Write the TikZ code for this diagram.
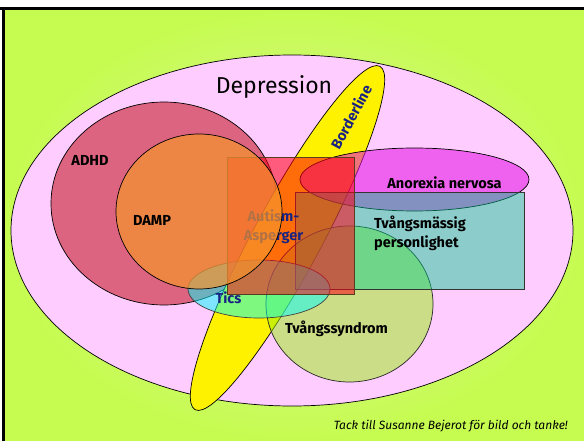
\documentclass[tikz,border=0pt]{standalone}
\usepackage{fontspec}
\setmainfont{Fira Sans}
\definecolor{bgin}{RGB}{220,242,168}
\definecolor{bgout}{RGB}{198,252,80}
\definecolor{pinkD}{RGB}{255,204,255}
\definecolor{adhdC}{RGB}{220,100,128}
\definecolor{dampC}{RGB}{245,148,45}
\definecolor{anoC}{RGB}{226,11,226}
\definecolor{tvsC}{RGB}{153,238,17}
\definecolor{tealC}{RGB}{0,204,139}
\definecolor{ticsC}{RGB}{0,255,255}
\definecolor{autC}{RGB}{255,0,20}
\definecolor{autEdge}{RGB}{90,60,30}
\definecolor{navy}{RGB}{25,35,130}
\begin{document}
\begin{tikzpicture}[x=1pt,y=-1pt,
  outl/.style={draw=black,line width=0.7pt},
  lbl/.style={font=\fontsize{14.5}{19}\selectfont\bfseries, inner sep=0pt}]
\useasboundingbox (0,0) rectangle (584,441);
\fill[white] (0,0) rectangle (584,441);
\shade[inner color=bgin, outer color=bgout] (4,9) rectangle (584,441);
\draw[line width=3pt] (0,8.5) -- (584,8.5);
\draw[line width=3pt] (3.5,7) -- (3.5,441);
% Depression
\draw[outl, fill=pinkD] (292,230.5) ellipse [x radius=281, y radius=175.5];
% ADHD
\draw[outl, fill=adhdC] (164,203.5) ellipse [x radius=113, y radius=101.5];
% Borderline
\draw[outl, fill=yellow, shift={(287.5,238)}, rotate=61.7] (0,0) ellipse [x radius=195, y radius=34];
% Anorexia
\draw[outl, fill=anoC, fill opacity=0.55] (414.5,179.5) ellipse [x radius=114.5, y radius=31.5];
% Tvangssyndrom
\draw[outl, draw=black!85, fill=tvsC, fill opacity=0.5] (349.5,304) ellipse [x radius=83.5, y radius=78];
% Tvangsmassig personlighet
\draw[outl, draw=black!80, fill=tealC, fill opacity=0.45] (295,192) rectangle (524,289);
% Tics
\draw[outl, draw=black!75, fill=ticsC, fill opacity=0.5] (259,289) ellipse [x radius=71, y radius=29];
% Autism rect
\draw[line width=0.8pt, draw=autEdge, fill=autC, fill opacity=0.55] (227,157) rectangle (354,294);
% Autism text
\node[lbl, text=navy, align=center] (aut) at (273.5,227) {Autism-\\Asperger};
% DAMP
\draw[outl, fill=dampC, fill opacity=0.7] (199,211.5) ellipse [x radius=83, y radius=77.5];
% labels
\node[font=\fontsize{23}{25}\selectfont, inner sep=0pt] (dep) at (274,87) {Depression};
\node[lbl] (adhd) at (90,160) {ADHD};
\node[lbl] (damp) at (152,220) {DAMP};
\node[lbl, text=navy, rotate=61.7] (bord) at (351,117) {Borderline};
\node[lbl] (ano) at (444.5,183) {Anorexia nervosa};
\node[lbl, align=left, anchor=west] (tvp) at (374,233.5) {Tvångsmässig\\personlighet};
\node[lbl] (tvs) at (336.5,329) {Tvångssyndrom};
\node[lbl, text=navy] (tics) at (228.5,298) {Tics};
\node[font=\fontsize{12}{14}\selectfont\itshape, inner sep=0pt, anchor=east] (foot) at (568,426) {Tack till Susanne Bejerot för bild och tanke!};
\end{tikzpicture}
\end{document}
